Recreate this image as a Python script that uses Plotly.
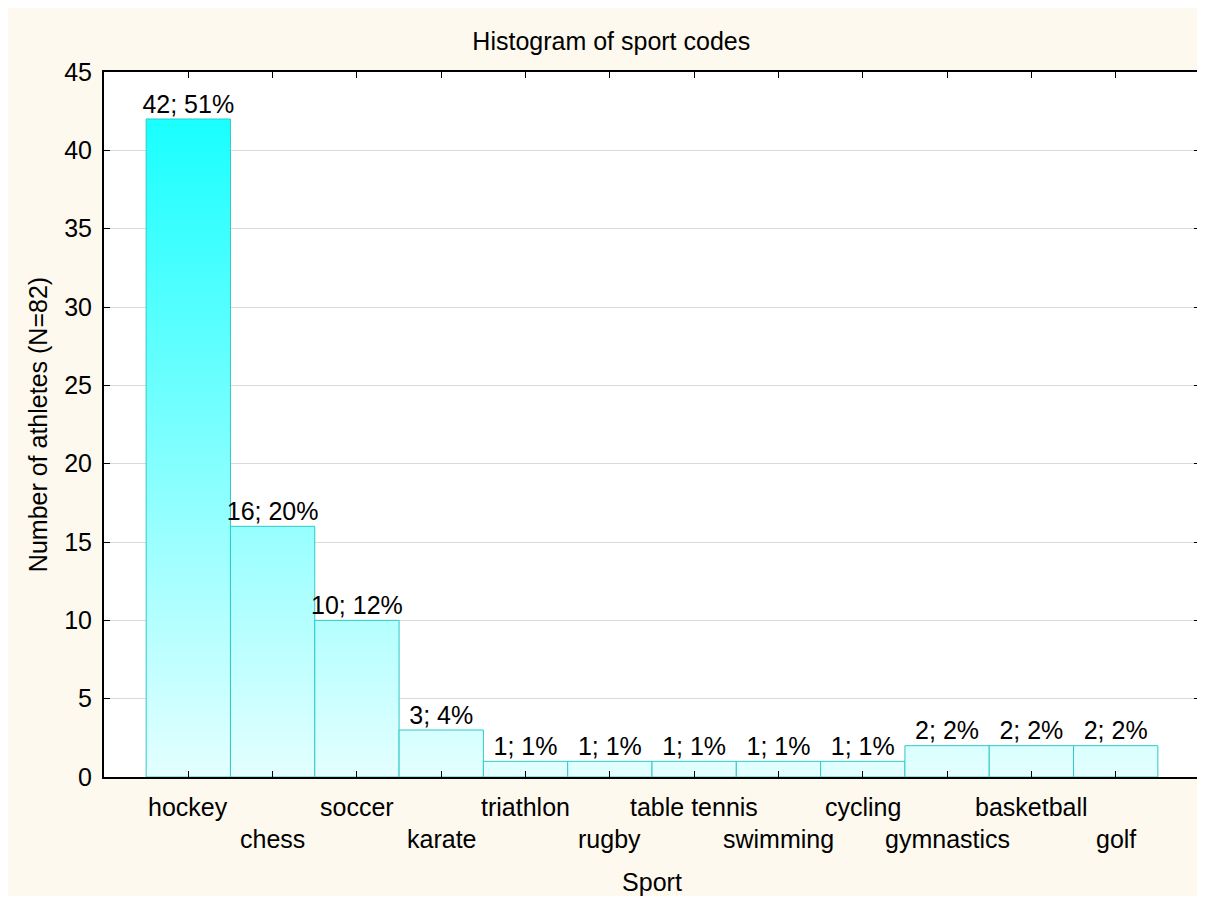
import plotly.graph_objects as go

sports = ["hockey", "chess", "soccer", "karate", "triathlon", "rugby",
          "table tennis", "swimming", "cycling", "gymnastics", "basketball", "golf"]
counts = [42, 16, 10, 3, 1, 1, 1, 1, 1, 2, 2, 2]
percents = [51, 20, 12, 4, 1, 1, 1, 1, 1, 2, 2, 2]
y_ticks = [0, 5, 10, 15, 20, 25, 30, 35, 40, 45]

font = "Liberation Sans, Arial, sans-serif"
edge = "#2FC9C9"
fsize = 25

fig = go.Figure()

# each bar is a filled rectangle so it can carry the vertical gradient
for i, c in enumerate(counts):
    fig.add_trace(go.Scatter(
        x=[i - 0.5, i - 0.5, i + 0.5, i + 0.5, i - 0.5],
        y=[0, c, c, 0, 0],
        mode="lines",
        fill="toself",
        fillgradient=dict(type="vertical", start=0, stop=max(counts),
                          colorscale=[[0, "rgb(228,255,255)"], [1, "rgb(25,255,255)"]]),
        line=dict(color=edge, width=1),
        hoverinfo="skip",
        showlegend=False,
    ))

fig.add_trace(go.Scatter(
    x=list(range(len(sports))),
    y=counts,
    mode="text",
    text=[f"{c}; {p}%" for c, p in zip(counts, percents)],
    textposition="top center",
    textfont=dict(family=font, size=fsize, color="black"),
    showlegend=False,
))

# staggered category labels
for i, s in enumerate(sports):
    fig.add_annotation(x=i, y=0, xref="x", yref="y", text=s, showarrow=False,
                       yanchor="top", yshift=-14 if i % 2 == 0 else -46,
                       font=dict(family=font, size=fsize, color="black"))

fig.update_layout(
    width=1197, height=888,
    paper_bgcolor="#FEF9EE",
    plot_bgcolor="white",
    margin=dict(l=96, r=5, t=64, b=119),
    title=dict(text="Histogram of sport codes", x=0.504, xanchor="center",
               y=0.962, yanchor="middle",
               font=dict(family=font, size=fsize, color="black")),
    font=dict(family=font, size=fsize, color="black"),
)
fig.update_xaxes(
    range=[-1, 12], tickvals=list(range(len(sports))), showticklabels=False,
    ticks="inside", ticklen=6, tickcolor="black",
    showgrid=False, zeroline=False,
    showline=True, linecolor="black", linewidth=2, mirror="ticks",
    title=dict(text="Sport", standoff=96, font=dict(size=fsize)),
    automargin=False,
)
fig.update_yaxes(
    range=[0, 45], tickvals=y_ticks,
    ticks="inside", ticklen=6, tickcolor="black",
    showgrid=True, gridcolor="#D9D9D9", gridwidth=1, zeroline=False,
    showline=True, linecolor="black", linewidth=2, mirror="ticks",
    ticklabelstandoff=5,
    title=dict(text="Number of athletes (N=82)", standoff=9, font=dict(size=fsize)),
    tickfont=dict(size=fsize),
    automargin=False,
)

fig.write_html("out.html")
